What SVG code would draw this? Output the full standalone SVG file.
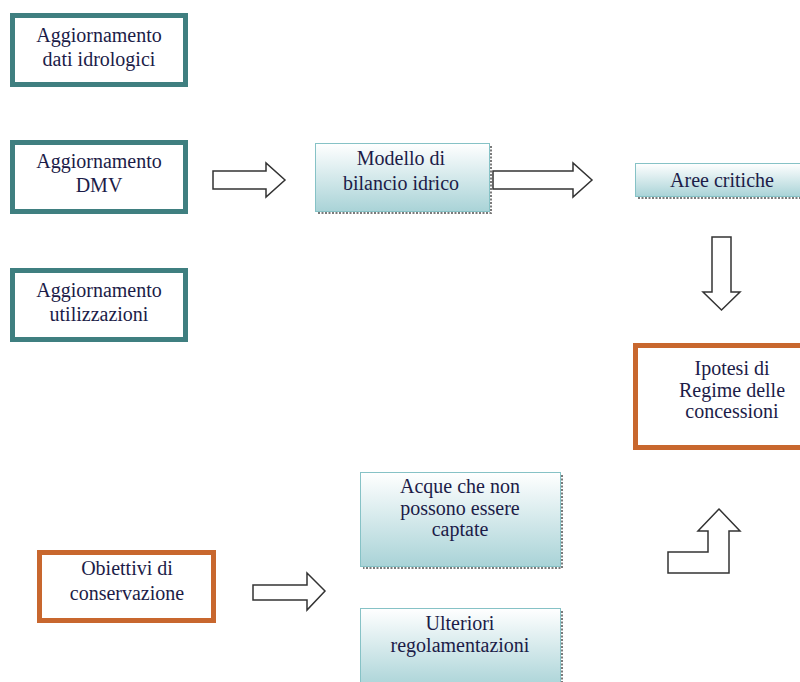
<svg xmlns="http://www.w3.org/2000/svg" width="800" height="682" viewBox="0 0 800 682">
<defs>
<linearGradient id="g" x1="0" y1="0" x2="0" y2="1">
<stop offset="0" stop-color="#ffffff"/>
<stop offset="1" stop-color="#a9d3d7"/>
</linearGradient>
</defs>
<style>
.teal{fill:#fff;stroke:#3f7f80;stroke-width:5}
.orange{fill:#fff;stroke:#c8672e;stroke-width:5}
.grad{fill:url(#g);stroke:#86c2c6;stroke-width:1}
.shadow{fill:none;stroke:#7a7a7a;stroke-width:2;stroke-dasharray:2 1.5}
.arrow{fill:#fff;stroke:#333;stroke-width:1.5;stroke-linejoin:miter}
</style>
<rect width="800" height="682" fill="#fff"/>
<g id="n1">
<rect class="teal" x="12.5" y="15.5" width="173" height="69"/>
<text font-family="'Liberation Serif'" font-size="20" fill="#1c1c48" text-anchor="middle" x="99" y="42">Aggiornamento</text>
<text font-family="'Liberation Serif'" font-size="20" fill="#1c1c48" text-anchor="middle" x="99" y="66">dati idrologici</text>
</g>
<g id="n2">
<rect class="teal" x="12.5" y="142.5" width="173" height="69"/>
<text font-family="'Liberation Serif'" font-size="20" fill="#1c1c48" text-anchor="middle" x="99" y="168">Aggiornamento</text>
<text font-family="'Liberation Serif'" font-size="20" fill="#1c1c48" text-anchor="middle" x="99" y="192">DMV</text>
</g>
<g id="n3">
<rect class="teal" x="12.5" y="270.5" width="173" height="69"/>
<text font-family="'Liberation Serif'" font-size="20" fill="#1c1c48" text-anchor="middle" x="99" y="297">Aggiornamento</text>
<text font-family="'Liberation Serif'" font-size="20" fill="#1c1c48" text-anchor="middle" x="99" y="321">utilizzazioni</text>
</g>
<g id="n4">
<polyline class="shadow" points="491,146 491,213 318,213"/>
<rect class="grad" x="315.5" y="143.5" width="174" height="68"/>
<text font-family="'Liberation Serif'" font-size="20" fill="#1c1c48" text-anchor="middle" x="401" y="165">Modello di</text>
<text font-family="'Liberation Serif'" font-size="20" fill="#1c1c48" text-anchor="middle" x="401" y="190">bilancio idrico</text>
</g>
<g id="n5">
<polyline class="shadow" points="638,198 802,198"/>
<rect class="grad" x="635.5" y="163.5" width="170" height="33"/>
<text font-family="'Liberation Serif'" font-size="20" fill="#1c1c48" text-anchor="middle" x="722" y="187">Aree critiche</text>
</g>
<g id="n6">
<rect class="orange" x="635.5" y="345.5" width="170" height="102"/>
<text font-family="'Liberation Serif'" font-size="20" fill="#1c1c48" text-anchor="middle" x="732" y="375">Ipotesi di</text>
<text font-family="'Liberation Serif'" font-size="20" fill="#1c1c48" text-anchor="middle" x="732" y="397">Regime delle</text>
<text font-family="'Liberation Serif'" font-size="20" fill="#1c1c48" text-anchor="middle" x="732" y="418">concessioni</text>
</g>
<g id="n7">
<polyline class="shadow" points="562,475 562,568 363,568"/>
<rect class="grad" x="360.5" y="472.5" width="200" height="94"/>
<text font-family="'Liberation Serif'" font-size="20" fill="#1c1c48" text-anchor="middle" x="460" y="493">Acque che non</text>
<text font-family="'Liberation Serif'" font-size="20" fill="#1c1c48" text-anchor="middle" x="460" y="515">possono essere</text>
<text font-family="'Liberation Serif'" font-size="20" fill="#1c1c48" text-anchor="middle" x="460" y="536">captate</text>
</g>
<g id="n8">
<polyline class="shadow" points="562,611 562,684"/>
<rect class="grad" x="360.5" y="608.5" width="200" height="80"/>
<text font-family="'Liberation Serif'" font-size="20" fill="#1c1c48" text-anchor="middle" x="460" y="630">Ulteriori</text>
<text font-family="'Liberation Serif'" font-size="20" fill="#1c1c48" text-anchor="middle" x="460" y="652">regolamentazioni</text>
</g>
<g id="n9">
<rect class="orange" x="39.5" y="552.5" width="174" height="68"/>
<text font-family="'Liberation Serif'" font-size="20" fill="#1c1c48" text-anchor="middle" x="127" y="575">Obiettivi di</text>
<text font-family="'Liberation Serif'" font-size="20" fill="#1c1c48" text-anchor="middle" x="127" y="600">conservazione</text>
</g>
<g id="connectors">
<polygon class="arrow" points="213,171 266,171 266,163 285,180 266,197 266,189 213,189"/>
<polygon class="arrow" points="493,171 573,171 573,163 592,180 573,197 573,189 493,189"/>
<polygon class="arrow" points="712,237 731,237 731,292 740,292 721.5,310 703,292 712,292"/>
<polygon class="arrow" points="253,585 307,585 307,573 325,591 307,610 307,600 253,600"/>
<polygon class="arrow" points="668,573 729,573 729,531 740,531 719,509 698,531 708,531 708,552 668,552"/>
</g>
</svg>
